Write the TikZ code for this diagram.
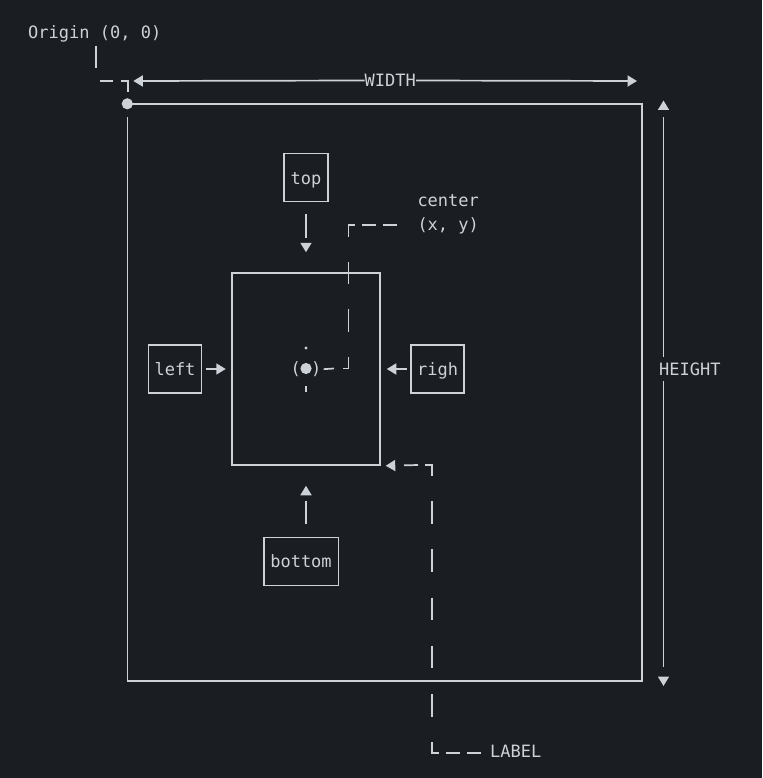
\documentclass[tikz,border=0pt]{standalone}
\usepackage{fontspec}
\setmonofont{DejaVu Sans Mono}
\usetikzlibrary{arrows.meta}
\definecolor{bg}{HTML}{1A1D21}
\definecolor{fg}{HTML}{CDD2D8}
\begin{document}
\begin{tikzpicture}[x=1pt,y=-1pt,
  line/.style={draw=fg,line width=1.7pt},
  txt/.style={text=fg,font=\ttfamily\fontsize{17}{20}\selectfont,inner sep=0pt},
  boxnode/.style={draw=fg,line width=1.5pt,txt,text height=13pt,text depth=0pt,minimum height=48pt},
  tip/.style={-{Triangle[length=9.5pt,width=11pt]}},
  dashlong/.style={dash pattern=on 22.5pt off 25.8pt}]
\fill[bg] (0,0) rectangle (762,778);
\useasboundingbox (0,0) rectangle (762,778);

% frame and dimension markers
\node[inner sep=0pt,minimum width=514.5pt,minimum height=577pt] (frame) at (384.75,392.5) {};
\fill[fg] (frame.north west) circle (5.6pt);
\draw[line,line width=1.5pt] (frame.north west) -- (frame.north east) -- (frame.south east) -- (frame.south west) -- ([yshift=-13pt]frame.north west);

\node[txt,anchor=base west] (orig) at (28,38.5) {Origin (0, 0)};
\coordinate (o1) at (96,46);
\coordinate (o2) at (96,68);
\draw[line] (o1) -- (o2);
\draw[line] (100,81) -- (113,81);
\draw[line] (121,81) -- (128,81) -- (128,92);

\node[txt,anchor=base west] (width) at (364.5,86.7) {WIDTH};
\coordinate (wl) at (133.3,81);
\coordinate (wr) at (637,81);
\draw[line,tip] (width.west) -- (wl);
\draw[line,tip] (width.east) -- (wr);

\node[txt,anchor=base west] (height) at (659,375) {HEIGHT};
\coordinate (h1) at (663.5,357);
\coordinate (h2) at (663.5,381);
\coordinate (ht) at (663.5,100.5);
\coordinate (hb) at (663.5,686);
\draw[line,tip,dash pattern=on 240pt off 60pt] (h1) -- (ht);
\draw[line,tip,dash pattern=on 286pt off 60pt] (h2) -- (hb);

% central box and its neighbours
\node[draw=fg,line width=1.5pt,inner sep=0pt,minimum width=148pt,minimum height=192pt] (main) at (306,369) {};
\node[boxnode,minimum width=44pt] (top) at (306,177.5) {top};
\node[boxnode,minimum width=53pt] (left) at (175,369) {left};
\node[boxnode,minimum width=53pt] (righ) at (437.7,369) {righ};
\node[boxnode,minimum width=74.5pt] (bottom) at (301,561.3) {bottom};

\draw[line,tip,dash pattern=on 24pt off 60pt] ([yshift=-11.5pt]top.south) -- ([yshift=20pt]main.north);
\draw[line,tip] ([xshift=3.5pt]left.east) -- ([xshift=-5.5pt]main.west);
\draw[line,tip] ([xshift=-3.5pt]righ.west) -- ([xshift=6pt]main.east);
\draw[line,tip,dash pattern=on 23pt off 60pt] ([yshift=13pt]bottom.north -| main.south) -- ([yshift=-20pt]main.south);

% center marker
\node[txt,anchor=base] (ctr) at (306,374.5) {(\phantom{●})};
\fill[fg] (306,368.5) circle (5.6pt);
\fill[fg] (306,348) circle (1.7pt);
\draw[line] (306,386) -- (306,392);
\draw[line] (ctr.east) ++(2pt,0) coordinate (c1) -- (334,368.5);
\draw[line] (343,368.5) -- (348.5,368.5) -- (348.5,357);
\draw[line] (348.5,332) -- (348.5,309);
\draw[line] (348.5,284) -- (348.5,261.5);
\draw[line] (348.5,237) -- (348.5,225) -- (354.5,225);
\draw[line] (362,225) -- (376,225);
\draw[line] (383,225) -- (397,225);
\node[txt,anchor=base west] (cent) at (417.3,206) {center};
\node[txt,anchor=base west] (xy) at (417.3,230) {(x, y)};

% label connector
\node[txt,anchor=base west] (label) at (490,757.7) {LABEL};
\draw[line,tip,dash pattern=on 14pt off 40pt] (418,465) -- ([xshift=5pt]main.south east);
\draw[line] (425,465) -- (432,465) -- (432,476);
\draw[line,dashlong] (432,501) -- (432,717);
\draw[line] (432,742) -- (432,753) -- (438.5,753);
\draw[line] (446,753) -- (460,753);
\draw[line] (467,753) -- (481,753);
\end{tikzpicture}
\end{document}
